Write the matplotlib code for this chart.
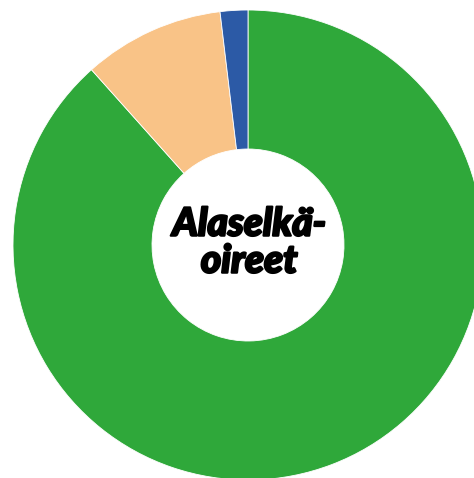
import matplotlib.pyplot as plt
import matplotlib.patheffects as pe

# osuudet (arvioitu kuvasta)
labels = ['Vihreä', 'Persikka', 'Sininen']
values = [88.4, 9.7, 1.9]
colors = ['#2fa83a', '#f9c387', '#2c5aa6']

fig = plt.figure(figsize=(4.74, 4.78), dpi=100)
ax = fig.add_axes([0, 0, 1, 1])

ax.pie(values, colors=colors, startangle=90, counterclock=False,
       radius=1.0, wedgeprops=dict(width=1 - 96 / 235, edgecolor='white', linewidth=0.6))

ax.text(0.005, 0.01, 'Alaselkä-\noireet', ha='center', va='center',
        fontsize=28, fontweight='black', style='italic', family='Lato',
        linespacing=1.0, color='black',
        path_effects=[pe.withStroke(linewidth=1.6, foreground='black')])

ax.set_xlim(-248 / 235, 226 / 235)
ax.set_ylim(-(478 - 245) / 235, 245 / 235)
ax.set_aspect('auto')
ax.axis('off')

fig.savefig('out.png', dpi=100)
